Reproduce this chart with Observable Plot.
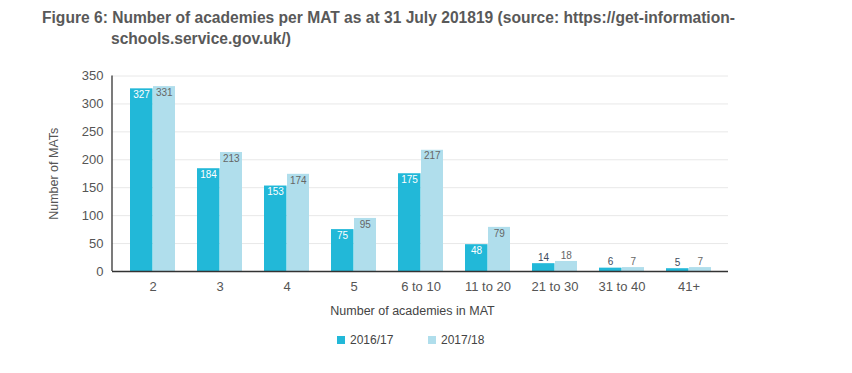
<!DOCTYPE html>
<html><head><meta charset="utf-8">
<script src="https://cdn.jsdelivr.net/npm/d3@7"></script>
<script src="https://cdn.jsdelivr.net/npm/@observablehq/plot@0.6"></script>
<style>
body{margin:0;background:#fff;font-family:"Liberation Sans",Arial,sans-serif;}
#wrap{position:relative;width:852px;height:373px;overflow:hidden;background:#fff;}
.tl{position:absolute;font-weight:bold;font-size:15.6px;color:#595959;white-space:nowrap;}
#chart{position:absolute;left:0;top:55px;}
.lg{position:absolute;top:333px;font-size:12px;color:#444;line-height:14px;}
.sw{position:absolute;width:8px;height:8px;top:336px;}
</style></head>
<body><div id="wrap">
<div class="tl" style="left:42px;top:9px">Figure 6: Number of academies per MAT as at 31 July 201819 (source: https://get-information-</div>
<div class="tl" style="left:111px;top:30px">schools.service.gov.uk/)</div>
<div id="chart"></div>
<div id="legend"></div>
</div>
<script>
const categories = ["2","3","4","5","6 to 10","11 to 20","21 to 30","31 to 40","41+"];
const series = ["2016/17","2017/18"];
const values1617 = [327,184,153,75,175,48,14,6,5];
const values1718 = [331,213,174,95,217,79,18,7,7];
const yTicks = [0,50,100,150,200,250,300,350];
const colors = ["#22b8d8","#b0deec"];

const rows1617 = categories.map((c,i)=>({cat:c, series:series[0], value:values1617[i]}));
const rows1718 = categories.map((c,i)=>({cat:c, series:series[1], value:values1718[i]}));

// vertical y-axis line drawn from the plot's frame dimensions
function yAxisLine(index, scales, values, dim) {
  const g = d3.create("svg:g");
  g.append("line")
    .attr("x1", dim.marginLeft).attr("x2", dim.marginLeft)
    .attr("y1", dim.marginTop).attr("y2", dim.height - dim.marginBottom)
    .attr("stroke", "#333").attr("stroke-width", 1.3);
  return g.node();
}

const labelFont = "'Liberation Sans Narrow','Liberation Sans',Arial,sans-serif";
const chart = Plot.plot({
  width: 852, height: 318,
  marginTop: 20.5, marginBottom: 102, marginLeft: 112, marginRight: 124,
  style: {fontFamily: "'Liberation Sans',Arial,sans-serif", fontSize: "13px", background: "#fff"},
  x: {domain: categories, paddingInner: 0.334, paddingOuter: 0.22, axis: null},
  y: {domain: [0,350], axis: null},
  marks: [
    Plot.gridY(yTicks.filter(d=>d>0), {stroke: "#e8e8e8", strokeOpacity: 1}),
    Plot.barY(rows1617, {x: "cat", y: "value", fill: colors[0], insetRight: 22.5}),
    Plot.barY(rows1718, {x: "cat", y: "value", fill: colors[1], insetLeft: 23}),
    Plot.ruleY([0], {stroke: "#333", strokeWidth: 1.3}),
    yAxisLine,
    Plot.axisY({ticks: yTicks, tickSize: 0, tickPadding: 9, color: "#555", label: null, fontSize: 13}),
    Plot.axisX({tickSize: 0, tickPadding: 10.5, color: "#555", label: null, fontSize: 13}),
    Plot.text(rows1617, {filter: d=>d.value>=30, x: "cat", y: "value", text: d=>String(d.value), dx: -11.5, dy: 6, fill: "#fff", fontSize: 10, fontFamily: labelFont}),
    Plot.text(rows1718, {filter: d=>d.value>=30, x: "cat", y: "value", text: d=>String(d.value), dx: 11.3, dy: 6, fill: "#666", fontSize: 10, fontFamily: labelFont}),
    Plot.text(rows1617, {filter: d=>d.value<30, x: "cat", y: "value", text: d=>String(d.value), dx: -11.5, dy: -6, fill: "#3d4b5c", fontSize: 10, fontFamily: labelFont}),
    Plot.text(rows1718, {filter: d=>d.value<30, x: "cat", y: "value", text: d=>String(d.value), dx: 11.3, dy: -6, fill: "#666", fontSize: 10, fontFamily: labelFont}),
    Plot.text(["Number of MATs"], {frameAnchor: "left", textAnchor: "middle", text: d=>d, rotate: -90, dx: -59, fill: "#555", fontSize: 12.5}),
    Plot.text(["Number of academies in MAT"], {frameAnchor: "bottom", textAnchor: "middle", text: d=>d, dx: -8, dy: 43, fill: "#444", fontSize: 12.5})
  ]
});
document.getElementById("chart").appendChild(chart);

const lg = document.getElementById("legend");
const swX = [337, 428];
series.forEach((s,i)=>{
  const sw = document.createElement("div");
  sw.className = "sw"; sw.style.left = swX[i] + "px"; sw.style.background = colors[i];
  lg.appendChild(sw);
  const t = document.createElement("div");
  t.className = "lg"; t.style.left = (swX[i] + 13) + "px"; t.textContent = s;
  lg.appendChild(t);
});
</script>
</body></html>
